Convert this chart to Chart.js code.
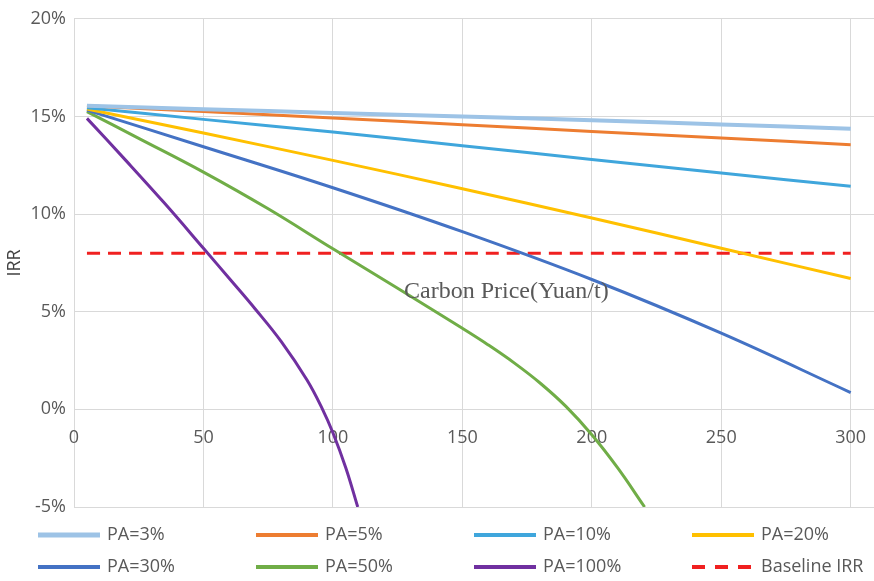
<!DOCTYPE html>
<html>
<head>
<meta charset="utf-8">
<script src="https://cdn.jsdelivr.net/npm/chart.js@4"></script>
<style>
  body { margin: 0; background: #fff; }
  #wrap { width: 874px; height: 581px; position: relative; }
</style>
</head>
<body>
<div id="wrap"><canvas id="graficoIRR"></canvas></div>
<script>
// valores (precio del carbono en Yuan/t, IRR en %)
const precios = [5, 50, 100, 150, 200, 250, 300];
const irrPA3 = [15.55, 15.37, 15.18, 15.0, 14.8, 14.59, 14.37];
const irrPA5 = [15.55, 15.25, 14.92, 14.58, 14.23, 13.9, 13.55];
const irrPA10 = [15.45, 14.85, 14.2, 13.5, 12.8, 12.1, 11.42];
const irrPA20 = [15.38, 14.15, 12.75, 11.3, 9.8, 8.25, 6.7];
const irrPA30 = [15.32, 13.45, 11.35, 9.1, 6.65, 3.9, 0.86];

const preciosPA50 = [5, 25, 50, 75, 100, 125, 150, 160, 170, 180, 190, 200, 210, 220.4];
const irrPA50 = [15.25, 13.88, 12.15, 10.27, 8.22, 6.2, 4.15, 3.3, 2.38, 1.35, 0.15, -1.3, -3.0, -5.0];

const preciosPA100 = [5, 20, 35, 50, 60, 70, 80, 90, 96, 100, 105, 109.6];
const irrPA100 = [14.9, 12.75, 10.55, 8.25, 6.7, 5.14, 3.48, 1.5, 0.0, -1.2, -3.0, -5.0];

const preciosBase = [5, 300];
const irrBase = [8, 8];

const etiquetas = ['PA=3%', 'PA=5%', 'PA=10%', 'PA=20%', 'PA=30%', 'PA=50%', 'PA=100%', 'Baseline IRR'];
const colores = ['#9DC3E6', '#ED7D31', '#3FA6DC', '#FFC000', '#4472C4', '#70AD47', '#7030A0', '#F02020'];
const ticksX = [0, 50, 100, 150, 200, 250, 300];

const tituloX = 'Carbon Price(Yuan/t)';
const tituloY = 'IRR';

function puntos(xs, ys) {
  return xs.map((x, i) => ({ x: x, y: ys[i] }));
}

const series = [
  puntos(precios, irrPA3),
  puntos(precios, irrPA5),
  puntos(precios, irrPA10),
  puntos(precios, irrPA20),
  puntos(precios, irrPA30),
  puntos(preciosPA50, irrPA50),
  puntos(preciosPA100, irrPA100),
  puntos(preciosBase, irrBase)
];

const datasets = series.map((d, i) => ({
  label: etiquetas[i],
  data: d,
  borderColor: colores[i],
  backgroundColor: colores[i],
  borderWidth: i === 0 ? 4 : 3,
  borderDash: i === 7 ? [13, 8] : [],
  pointRadius: 0,
  fill: false,
  tension: 0.4
}));

// leyenda en 4 columnas debajo del grafico
const leyendaPlugin = {
  id: 'leyenda',
  afterDraw(chart) {
    const ctx = chart.ctx;
    ctx.save();
    chart.data.datasets.forEach((ds, i) => {
      const col = i % 4;
      const fila = Math.floor(i / 4);
      const x0 = 38 + col * 218;
      const y = 535 + fila * 32;
      ctx.beginPath();
      ctx.strokeStyle = ds.borderColor;
      ctx.lineWidth = ds.borderWidth + 1;
      ctx.setLineDash(ds.borderDash.length ? [13, 10] : []);
      ctx.moveTo(x0, y);
      ctx.lineTo(x0 + 62, y);
      ctx.stroke();
      ctx.setLineDash([]);
      ctx.fillStyle = '#595959';
      ctx.font = '18px "Open Sans"';
      ctx.textBaseline = 'middle';
      ctx.textAlign = 'left';
      ctx.fillText(ds.label, x0 + 69, y);
    });
    ctx.restore();
  }
};

// titulo del eje X, que en la figura original aparece dentro del area
const tituloPlugin = {
  id: 'tituloX',
  afterDatasetsDraw(chart) {
    const ctx = chart.ctx;
    const xs = chart.scales.x;
    const ys = chart.scales.y;
    ctx.save();
    ctx.fillStyle = '#595959';
    ctx.font = '24px "Liberation Serif"';
    ctx.textAlign = 'center';
    ctx.textBaseline = 'middle';
    ctx.fillText(tituloX, xs.getPixelForValue(167), ys.getPixelForValue(6.0));
    ctx.restore();
  }
};

const ctx = document.getElementById('graficoIRR').getContext('2d');

const chart = new Chart(ctx, {
  type: 'line',
  data: { datasets: datasets },
  plugins: [leyendaPlugin, tituloPlugin],
  options: {
    responsive: true,
    maintainAspectRatio: false,
    animation: false,
    layout: { padding: { top: 15, bottom: 74, left: 0, right: 0 } },
    plugins: {
      legend: { display: false },
      tooltip: { enabled: false }
    },
    scales: {
      x: {
        type: 'linear',
        min: 0,
        max: 309,
        position: { y: 0 },
        afterBuildTicks: (scale) => {
          scale.ticks = ticksX.map(v => ({ value: v }));
        },
        afterFit: (scale) => {
          scale.paddingLeft = 0;
          scale.paddingRight = 0;
        },
        grid: { color: '#D9D9D9', lineWidth: 1, drawTicks: false },
        border: { display: false },
        ticks: {
          padding: 18,
          maxRotation: 0,
          color: '#595959',
          font: { family: 'Open Sans', size: 18 }
        }
      },
      y: {
        min: -5,
        max: 20,
        afterFit: (scale) => { scale.width = 74; },
        grid: { color: '#D9D9D9', lineWidth: 1, drawTicks: false },
        border: { display: false },
        ticks: {
          stepSize: 5,
          padding: 8,
          color: '#595959',
          font: { family: 'Open Sans', size: 18 },
          callback: (v) => v + '%'
        },
        title: {
          display: true,
          text: tituloY,
          color: '#404040',
          padding: { top: 4, bottom: 0 },
          font: { family: 'Open Sans', size: 18 }
        }
      }
    }
  }
});
</script>
</body>
</html>
